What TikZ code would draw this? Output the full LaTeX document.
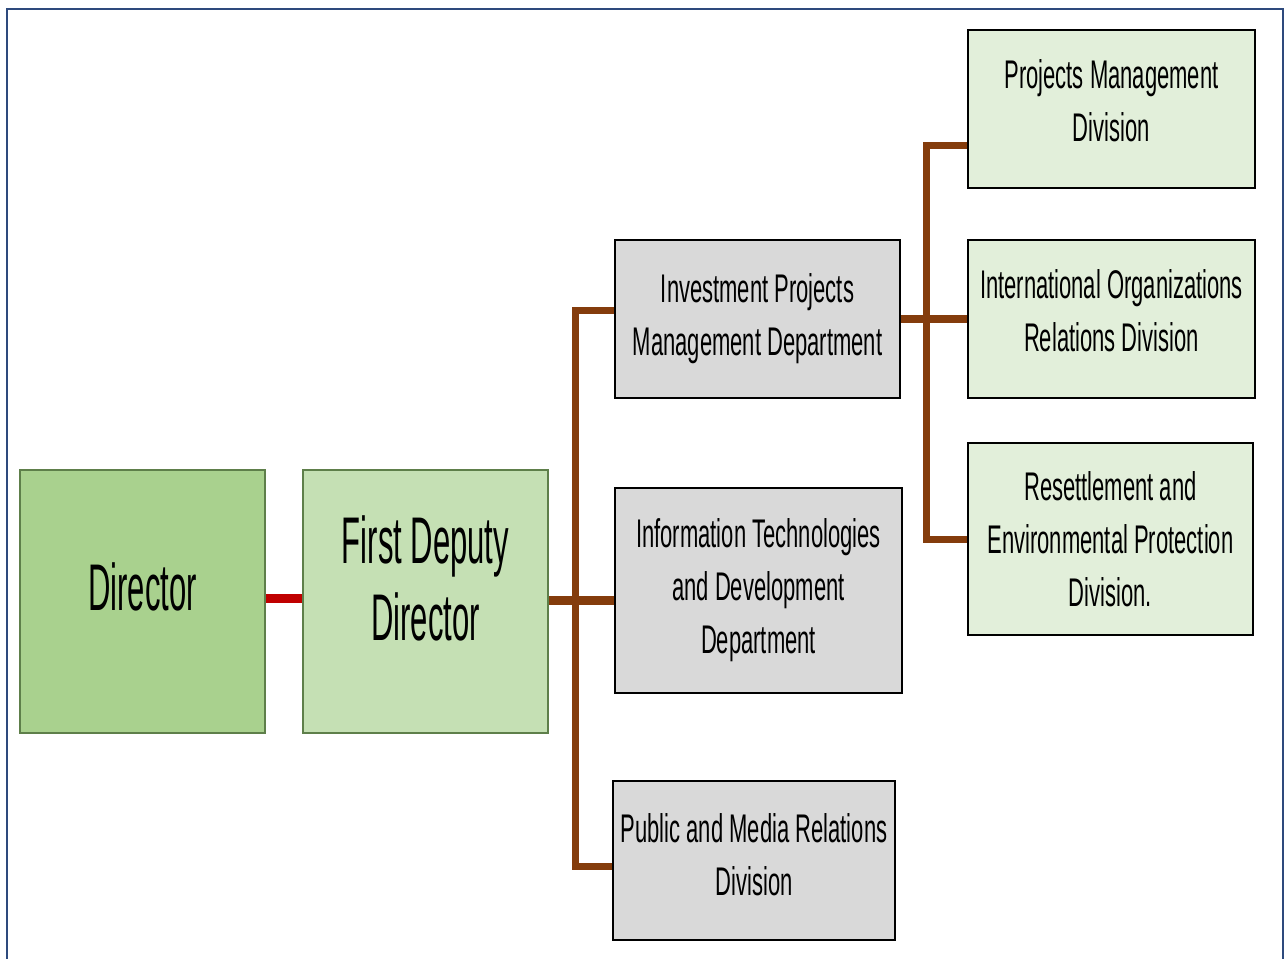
\documentclass[tikz,border=0pt]{standalone}
\usepackage{fontspec}
\setmainfont{Liberation Sans}
\newfontfamily\smallf[FakeStretch=0.55]{Liberation Sans}
\newfontfamily\bigf[FakeStretch=0.47]{Liberation Sans}
\definecolor{frameblue}{HTML}{2E4A7D}
\definecolor{dirgreen}{HTML}{A9D18E}
\definecolor{fddgreen}{HTML}{C5E0B4}
\definecolor{greenedge}{HTML}{5E7F4A}
\definecolor{boxgray}{HTML}{D9D9D9}
\definecolor{divgreen}{HTML}{E2EFDA}
\definecolor{linkred}{HTML}{C00000}
\definecolor{linkbrown}{HTML}{843C0C}
\tikzset{
  box/.style={rectangle, inner sep=0pt, align=center, text=black},
  bigbox/.style={box, draw=greenedge, line width=2pt, minimum width=245pt, minimum height=263pt,
    font=\bigf\fontsize{66}{77}\selectfont},
  deptbox/.style={box, draw=black, line width=2pt, fill=boxgray,
    font=\smallf\fontsize{40}{53}\selectfont},
  divbox/.style={box, draw=black, line width=2pt, fill=divgreen,
    font=\smallf\fontsize{40}{53}\selectfont},
  redlink/.style={draw=linkred, line width=9pt},
  brownlink/.style={draw=linkbrown, line width=7pt},
}
\begin{document}
\begin{tikzpicture}[x=1pt, y=-1pt]
\useasboundingbox (0,0) rectangle (1286,959);
\fill[white] (0,0) rectangle (1286,959);
\draw[frameblue, line width=2.5pt] (7,970) -- (7,9) -- (1283,9) -- (1283,970);

\node[bigbox, fill=dirgreen] (dir) at (142.5,601.5) {Director\\[-47pt]};
\node[bigbox, fill=fddgreen] (fdd) at (425.5,601.5) {First Deputy\\Director\\[-31pt]};

\node[deptbox, minimum width=285pt, minimum height=158pt] (ipmd) at (757.5,319) {Investment Projects\\Management Department\\[-45pt]};
\node[deptbox, minimum width=287pt, minimum height=205pt] (itd) at (758.5,590.5) {Information Technologies\\and Development\\Department};
\node[deptbox, minimum width=282pt, minimum height=159pt] (pmr) at (754,860.5) {Public and Media Relations\\Division\\[-41pt]};

\node[divbox, minimum width=287pt, minimum height=158pt] (pmd) at (1111.5,109) {Projects Management\\Division\\[-37pt]};
\node[divbox, minimum width=287pt, minimum height=158pt] (ior) at (1111.5,319) {International Organizations\\Relations Division\\[-37pt]};
\node[divbox, minimum width=285pt, minimum height=192pt] (rep) at (1110.5,539) {Resettlement and\\Environmental Protection\\Division.};

\coordinate (lt) at (575,310);
\coordinate (lb) at (575,866);
\coordinate (lm) at (575,600);
\coordinate (rt) at (926,145);
\coordinate (rb) at (926,539);
\coordinate (rm) at (926,319);

\draw[redlink] (dir.east |- 0,598) -- (fdd.west |- 0,598);
\draw[brownlink] (ipmd.west |- lt) -- (lt) -- (lb) -- (pmr.west |- lb);
\draw[brownlink, line width=9pt] (fdd.east |- lm) -- (itd.west |- lm);
\draw[brownlink] (pmd.west |- rt) -- (rt) -- (rb) -- (rep.west |- rb);
\draw[brownlink, line width=8pt] (ipmd.east |- rm) -- (ior.west |- rm);
\end{tikzpicture}
\end{document}
